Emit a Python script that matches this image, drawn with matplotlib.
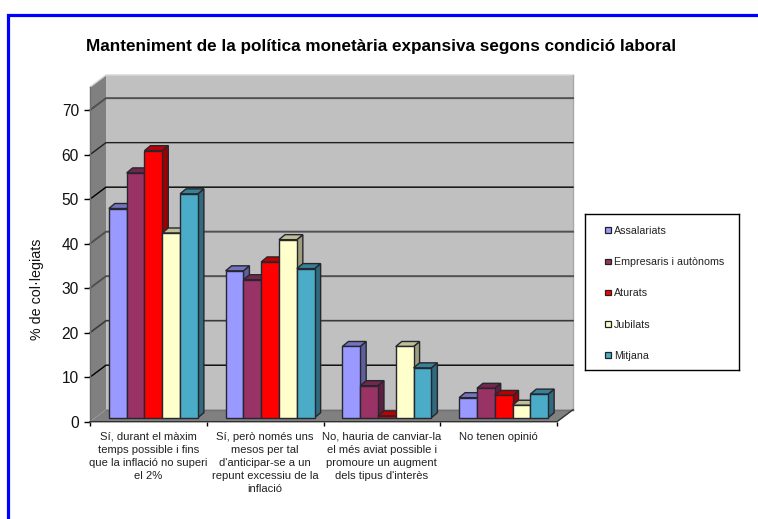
import matplotlib
matplotlib.use("Agg")
import matplotlib.pyplot as plt
from matplotlib.patches import Polygon, Rectangle
from matplotlib.colors import to_rgb

W, H = 758, 519
plt.rcParams['font.family'] = ['Liberation Sans', 'DejaVu Sans']

title = "Manteniment de la política monetària expansiva segons condició laboral"
ylabel = "% de col·legiats"
categories = [
    "Sí, durant el màxim\ntemps possible i fins\nque la inflació no superi\nel 2%",
    "Sí, però només uns\nmesos per tal\nd'anticipar-se a un\nrepunt excessiu de la\ninflació",
    "No, hauria de canviar-la\nel més aviat possible i\npromoure un augment\ndels tipus d'interès",
    "No tenen opinió",
]
series_names = ["Assalariats", "Empresaris i autònoms", "Aturats", "Jubilats", "Mitjana"]
assalariats = [47, 33, 16, 4.5]
empresaris = [55, 31, 7.2, 6.6]
aturats = [60, 35, 0.4, 5]
jubilats = [41.5, 40, 16, 2.8]
mitjana = [50.3, 33.5, 11.2, 5.3]
series_values = [assalariats, empresaris, aturats, jubilats, mitjana]
colors = ["#9999FF", "#993366", "#FF0000", "#FFFFCC", "#4BACC8"]
yticks = [0, 10, 20, 30, 40, 50, 60, 70]
grid_styles = {10: ("#000000", 1.0), 20: ("#3A3A3A", 1.2), 30: ("#505050", 1.4), 40: ("#505050", 1.4),
               50: ("#000000", 1.0), 60: ("#202020", 1.0), 70: ("#505050", 1.4)}

def px_rect(l, t, r, b):
    return [l / W, 1 - b / H, (r - l) / W, (b - t) / H]

def shade(c, f):
    return tuple(v * f for v in to_rgb(c))

fig = plt.figure(figsize=(W / 100, H / 100), dpi=100, facecolor="white")

# blue outer frame
fig.add_artist(Rectangle((7.5 / W, -0.02), 0.99 * 2, 1 - 14.5 / H + 0.02,
                         transform=fig.transFigure, fc="white", ec="#0000FF", lw=2.3, zorder=-5))

ax = fig.add_axes(px_rect(90, 87, 557, 421.7))
ax.set_xlim(0, 4)
ax.set_ylim(0, 75.2)
ax.patch.set_visible(False)
for s in ax.spines.values():
    s.set_visible(False)

px_x = 4 / 467.0
px_y = 75.2 / 334.7
DX, DY = 16 * px_x, 12 * px_y       # wall depth
YMAX = 75.2

# walls
ax.add_patch(Polygon([(DX, DY), (4 + DX, DY), (4 + DX, YMAX + DY), (DX, YMAX + DY)],
                     fc="#C0C0C0", ec="none", clip_on=False, zorder=1))
ax.add_patch(Polygon([(0, 0), (DX, DY), (DX, YMAX + DY), (0, YMAX)],
                     fc="#808080", ec="none", clip_on=False, zorder=1))
ax.add_patch(Polygon([(0, 0), (4, 0), (4 + DX, DY), (DX, DY)],
                     fc="#808080", ec="none", clip_on=False, zorder=1))
ax.plot([0, DX, 4 + DX], [YMAX, YMAX + DY, YMAX + DY], color="#D8D8D8", lw=1, clip_on=False, zorder=1.5)
ax.plot([4 + DX, 4 + DX], [DY, YMAX + DY], color="#A8A8A8", lw=1, clip_on=False, zorder=1.5)

# gridlines
for t in yticks[1:]:
    c, lw = grid_styles[t]
    ax.plot([0, DX, 4 + DX], [t, t + DY, t + DY], color=c, lw=lw,
            clip_on=False, zorder=2, solid_joinstyle="miter")
ax.plot([DX, 4 + DX], [DY, DY], color="#707070", lw=1.0, clip_on=False, zorder=2)
ax.plot([0, 0], [0, YMAX], color="#707070", lw=1.0, clip_on=False, zorder=2)
ax.plot([0, 4, 4 + DX], [0, 0, DY], color="#303030", lw=1.0, clip_on=False, zorder=6)

# bars
bw = 0.1525
off_x, off_y = 5 * px_x, 4 * px_y
dep_x, dep_y = 6 * px_x, 5 * px_y
edge = "#26262E"
z = 3.0
for i in range(len(categories)):
    for j, (vals, col) in enumerate(zip(series_values, colors)):
        v = vals[i]
        l = i + 0.5 - 2.5 * bw + j * bw + off_x
        r = l + bw
        b = off_y
        t = off_y + v
        kw = dict(ec=edge, lw=1.0, clip_on=False, joinstyle="miter")
        ax.add_patch(Polygon([(r, b), (r + dep_x, b + dep_y), (r + dep_x, t + dep_y), (r, t)],
                             fc=shade(col, 0.62), zorder=z, **kw))
        ax.add_patch(Polygon([(l, t), (r, t), (r + dep_x, t + dep_y), (l + dep_x, t + dep_y)],
                             fc=shade(col, 0.75), zorder=z, **kw))
        ax.bar(l, v, width=bw, bottom=b, align="edge", color=col, edgecolor=edge,
               linewidth=1.0, clip_on=False, zorder=z + 0.1)
        z += 0.2

# axes ticks and labels
ax.set_yticks(yticks)
ax.set_yticklabels([str(t) for t in yticks], fontsize=11.2, color="#111111")
ax.tick_params(axis="y", length=4, width=1, pad=4, color="black")
ax.set_xticks([0, 1, 2, 3, 4])
ax.set_xticklabels([])
ax.tick_params(axis="x", length=3, width=1, color="black", direction="out")
ax.set_zorder(5)
for i, c in enumerate(categories):
    ax.annotate(c, xy=(i + 0.5, 0), xycoords="data", xytext=(0, -10), textcoords="offset pixels",
                ha="center", va="top", fontsize=8.1, color="#222222", linespacing=1.37,
                annotation_clip=False)

fig.text(37 / W, 1 - 289 / H, ylabel, rotation=90, ha="center", va="center",
         fontsize=10.3, color="#111111")
fig.text(381 / W, 1 - 46 / H, title, ha="center", va="center", fontsize=12.3,
         fontweight="bold", color="black")

# legend
lax = fig.add_axes(px_rect(585, 214, 739, 370))
lax.set_xlim(585, 739)
lax.set_ylim(370, 214)
lax.set_xticks([])
lax.set_yticks([])
for s in lax.spines.values():
    s.set_linewidth(1.0)
    s.set_color("black")
for name, col, y in zip(series_names, colors, [230, 261.5, 292.5, 324, 355]):
    lax.add_patch(Rectangle((605.5, y - 2.8), 5.5, 5.5, fc=col, ec="#222222", lw=0.9))
    lax.text(614, y + 0.7, name, fontsize=7.65, va="center", ha="left", color="#222222")

fig.savefig("out.png", dpi=100)
